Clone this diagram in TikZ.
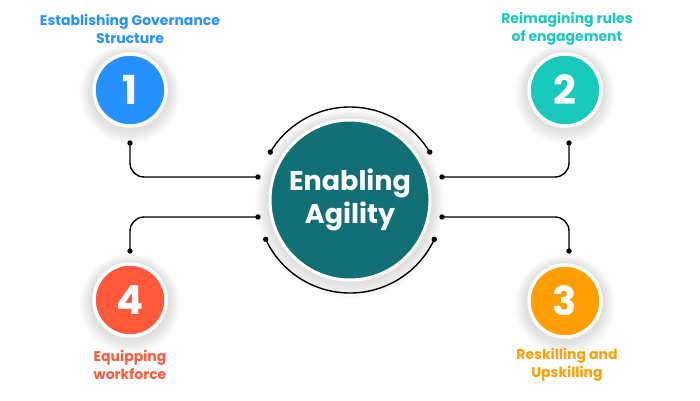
\documentclass[tikz,border=0pt]{standalone}
\usepackage{fontspec}
\setmainfont{Poppins}
\usetikzlibrary{calc}
\definecolor{cblue}{HTML}{2491FF}
\definecolor{cteal}{HTML}{19C9BB}
\definecolor{corange}{HTML}{FF9E00}
\definecolor{cred}{HTML}{FF583B}
\definecolor{ccenter}{HTML}{126F76}
\definecolor{shade}{HTML}{B4C3E0}
\tikzset{
  numcircle/.style={circle, draw=white, line width=3.5pt, minimum size=72pt, inner sep=0pt,
    text=white, font=\fontsize{40}{40}\selectfont\bfseries},
  hub/.style={circle, draw=white, line width=3pt, minimum size=160pt, inner sep=0pt, fill=ccenter,
    text=white, align=center, font=\fontsize{27}{33}\selectfont\bfseries},
  lbl/.style={align=center, inner sep=0pt, font=\fontsize{14}{18}\selectfont\bfseries},
  conn/.style={line width=1.4pt, black, rounded corners=14pt},
  dotmark/.style={fill=black},
}
\newcommand{\softshadow}[2]{%
  \foreach \k in {1,...,10}{\fill[shade, opacity=0.011] (#1) ++(0,-4pt) circle ({#2+\k*1.4pt});}}
\begin{document}
\begin{tikzpicture}[x=1pt,y=1pt]
\useasboundingbox (0,0) rectangle (700,400);
% shadows
\softshadow{350,200}{80pt}
\softshadow{130,310}{36pt}
\softshadow{565,310}{36pt}
\softshadow{565,99}{36pt}
\softshadow{130,100}{36pt}
% nodes
\node[hub] (c) at (350,200) {Enabling\\Agility};
\node[numcircle, fill=cblue] (n1) at (130,310) {1};
\node[numcircle, fill=cteal] (n2) at (565,310) {2};
\node[numcircle, fill=corange] (n3) at (565,99) {3};
\node[numcircle, fill=cred] (n4) at (130,100) {4};
% labels
\node[lbl, text=cblue] (t1) at (130,371) {Establishing Governance\\Structure};
\node[lbl, text=cteal] (t2) at (567,371) {Reimagining rules\\of engagement};
\node[lbl, text=corange] (t3) at (567,35.5) {Reskilling and\\Upskilling};
\node[lbl, text=cred] (t4) at (130,35.5) {Equipping\\workforce};
% connector ends
\coordinate (d1) at (130,257);
\coordinate (e1) at (258,223);
\coordinate (d2) at (569,257);
\coordinate (e2) at (442,223);
\coordinate (d3) at (569,149);
\coordinate (e3) at (442,183);
\coordinate (d4) at (130,149);
\coordinate (e4) at (258,183);
\draw[conn] (d1) |- (e1);
\draw[conn] (d2) |- (e2);
\draw[conn] (d3) |- (e3);
\draw[conn] (d4) |- (e4);
% arcs around hub
\coordinate (a1) at ($(c.center)+(149:93pt)$);
\coordinate (a2) at ($(c.center)+(31:93pt)$);
\coordinate (a3) at ($(c.center)+(205:93pt)$);
\coordinate (a4) at ($(c.center)+(335:93pt)$);
\draw[conn] (a2) arc[start angle=31, end angle=149, radius=93pt];
\draw[conn] (a3) arc[start angle=205, end angle=335, radius=93pt];
\foreach \p in {d1,e1,d2,e2,d3,e3,d4,e4,a1,a2,a3,a4}{\fill[dotmark] (\p) circle (2.7pt);}
\end{tikzpicture}
\end{document}
